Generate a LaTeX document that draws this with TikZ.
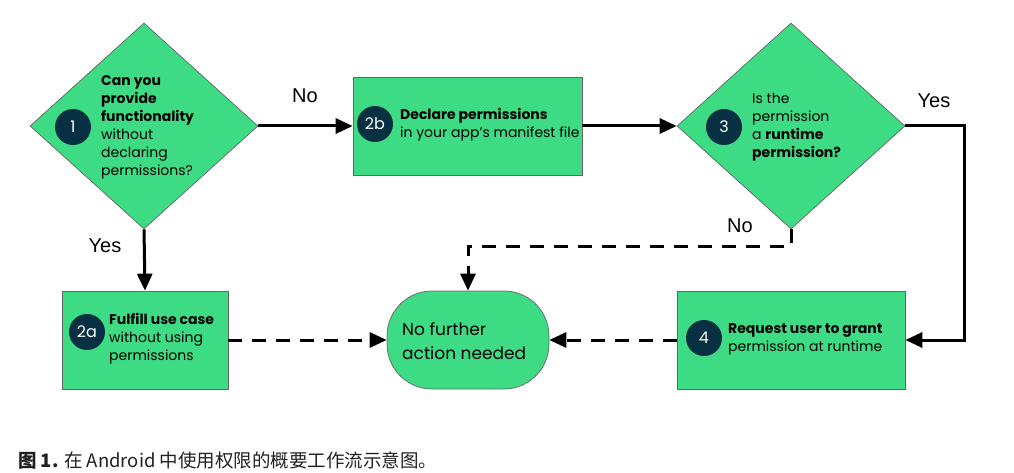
\documentclass[tikz,border=0pt]{standalone}
\usepackage{fontspec}
\setmainfont{Poppins}
\newfontfamily\answerfont{Liberation Sans}
\newfontfamily\cjkfont{Noto Sans CJK SC}
\usetikzlibrary{arrows.meta,shapes.geometric,calc}
\definecolor{droidgreen}{HTML}{3DDC84}
\definecolor{droidnavy}{HTML}{073042}
\definecolor{captiongray}{HTML}{202124}
\tikzset{every picture/.style={x=1pt,y=-1pt}}
\tikzset{shapeedge/.style={draw=black!60,fill=droidgreen,line width=0.7pt,inner sep=0pt}}
\tikzset{decision/.style={shapeedge,diamond,minimum width=228pt,minimum height=206pt}}
\tikzset{stepbox/.style={shapeedge,rectangle,minimum height=98pt}}
\tikzset{badge/.style={circle,fill=droidnavy,text=white,minimum size=36pt,inner sep=0pt,font=\fontsize{16}{16}\selectfont}}
\tikzset{boxtext/.style={anchor=west,align=left,inner sep=0pt,font=\fontsize{14}{18}\selectfont}}
\tikzset{answer/.style={font=\answerfont\fontsize{20}{20}\selectfont}}
\tikzset{flowarrow/.style={line width=3pt,-{Triangle[length=17pt,width=15pt]}}}
\tikzset{dasharrow/.style={flowarrow,dash pattern=on 14pt off 10pt}}

\begin{document}
\begin{tikzpicture}
    \useasboundingbox (0,0) rectangle (1014,473);
    % shapes
    \node [decision] (d1) at (144,126) {};
    \node [decision] (d3) at (791,126) {};
    \node [stepbox,minimum width=229pt] (s2b) at (467.5,126) {};
    \node [stepbox,minimum width=166pt] (s2a) at (145,340) {};
    \node [stepbox,minimum width=228pt] (s4) at (791,340) {};
    \node [shapeedge,rectangle,rounded corners=45pt,minimum width=162pt,minimum height=98pt] (done) at (468,340) {};
    % badges
    \node [badge] (b1) at (73,127) {1};
    \node [badge] (b2b) at (375,124) {2b};
    \node [badge] (b3) at (724,127) {3};
    \node [badge] (b2a) at (87,332) {2a};
    \node [badge] (b4) at (704,338) {4};
    % texts
    \node [boxtext] (t1) at (101,127) {\textbf{Can you}\\\textbf{provide}\\\textbf{functionality}\\without\\declaring\\permissions?};
    \node [boxtext] (t2b) at (400,125) {\textbf{Declare permissions}\\in your app’s manifest file};
    \node [boxtext] (t3) at (752,127) {Is the\\permission\\a \textbf{runtime}\\\textbf{permission?}};
    \node [boxtext] (t2a) at (109,339) {\textbf{Fulfill use case}\\without using\\permissions};
    \node [boxtext] (t4) at (728,339) {\textbf{Request user to grant}\\permission at runtime};
    \node [boxtext,font=\fontsize{17}{24}\selectfont] (tdone) at (402,341) {No further\\action needed};
    % answers
    \node [answer] (no1) at (305,96) {No};
    \node [answer] (yes1) at (105,246) {Yes};
    \node [answer] (yes3) at (934,101) {Yes};
    \node [answer] (no3) at (740,226) {No};
    % connectors
    \draw [flowarrow] (d1.east) -- (s2b.west);
    \draw [flowarrow] (d1.south) -- (s2a.north);
    \draw [flowarrow] (s2b.east) -- (d3.west);
    \draw [flowarrow] (d3.east) -- ++(59,0) |- (s4.east);
    \draw [dasharrow] (s2a.east) -- (done.west);
    \draw [dasharrow] (s4.west) -- (done.east);
    \draw [dasharrow] (d3.south) -- ++(0,17) -| (done.north);
    % caption
    \node [anchor=base west,inner sep=0pt,text=captiongray,font=\cjkfont\fontsize{18.5}{18.5}\selectfont] (caption) at (18,467) {\textbf{图 1.} 在 Android 中使用权限的概要工作流示意图。};
\end{tikzpicture}
\end{document}
